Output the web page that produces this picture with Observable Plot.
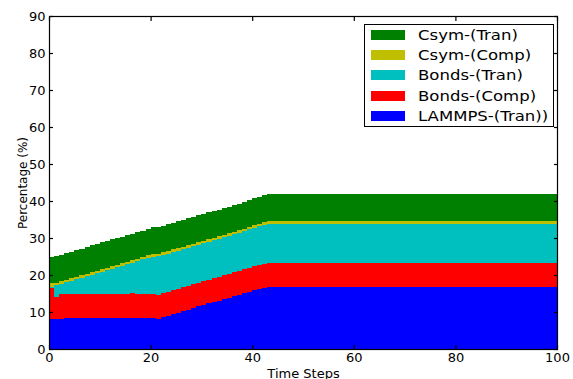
<!DOCTYPE html>
<html><head><meta charset="utf-8">
<script src="https://cdn.jsdelivr.net/npm/d3@7"></script>
<script src="https://cdn.jsdelivr.net/npm/@observablehq/plot@0.6"></script>
<style>
body{margin:0;background:#fff;font-family:"DejaVu Sans",sans-serif;}
#wrap{position:relative;width:573px;height:379px;overflow:hidden;}
#legend{position:absolute;left:364px;top:24px;width:190px;height:103px;border:1px solid #000;background:#fff;box-sizing:border-box;}
.row{position:absolute;left:6px;height:20px;display:flex;align-items:center;font-size:14px;color:#000;white-space:nowrap;}
.sw{width:34px;height:10px;margin-right:13px;flex:none;}
.lt{display:inline-block;transform:scaleX(1.18);transform-origin:left center;}
</style></head><body>
<div id="wrap"><div id="legend"></div></div>
<script>
const seriesNames = ["LAMMPS-(Tran))", "Bonds-(Comp)", "Bonds-(Tran)", "Csym-(Comp)", "Csym-(Tran)"];
const seriesColors = ["#0000ff", "#ff0000", "#00bfbf", "#bfbf00", "#008000"];
const legendOrder = ["Csym-(Tran)", "Csym-(Comp)", "Bonds-(Tran)", "Bonds-(Comp)", "LAMMPS-(Tran))"];
const xTicks = [0, 20, 40, 60, 80, 100];
const yTicks = [0, 10, 20, 30, 40, 50, 60, 70, 80, 90];

const lammpsTran = [
 8.2,8.2,8.2,8.3,8.3,8.3,8.3,8.3,8.3,8.3,
 8.3,8.4,8.4,8.4,8.4,8.4,8.4,8.4,8.4,8.4,
 8.4,8.1,8.6,9.0,9.4,9.8,10.2,10.6,11.0,11.5,
 11.9,12.3,12.7,13.1,13.5,13.9,14.3,14.7,15.1,15.5,
 15.9,16.3,16.6,16.8,16.8,16.8,16.8,16.8,16.8,16.8,
 16.8,16.8,16.8,16.8,16.8,16.8,16.8,16.8,16.8,16.8,
 16.8,16.8,16.8,16.8,16.8,16.8,16.8,16.8,16.8,16.8,
 16.8,16.8,16.8,16.8,16.8,16.8,16.8,16.8,16.8,16.8,
 16.8,16.8,16.8,16.8,16.8,16.8,16.8,16.8,16.8,16.8,
 16.8,16.8,16.8,16.8,16.8,16.8,16.8,16.8,16.8,16.8];
const bondsComp = [
 8.4,5.9,6.7,6.6,6.6,6.5,6.5,6.5,6.6,6.6,
 6.7,6.5,6.5,6.6,6.6,6.6,6.7,6.6,6.6,6.6,
 6.6,6.5,6.5,6.5,6.5,6.5,6.5,6.5,6.5,6.4,
 6.4,6.4,6.4,6.4,6.4,6.4,6.4,6.4,6.4,6.4,
 6.4,6.4,6.4,6.4,6.4,6.5,6.4,6.4,6.5,6.4,
 6.4,6.4,6.4,6.4,6.4,6.4,6.4,6.4,6.4,6.4,
 6.4,6.4,6.4,6.4,6.4,6.4,6.4,6.4,6.5,6.4,
 6.4,6.4,6.4,6.5,6.4,6.4,6.4,6.4,6.5,6.4,
 6.4,6.4,6.4,6.5,6.4,6.4,6.4,6.5,6.4,6.4,
 6.4,6.4,6.4,6.4,6.4,6.4,6.4,6.4,6.4,6.4];
const bondsTran = [
 0.2,3.1,2.7,3.1,3.5,4.0,4.4,4.8,5.2,5.6,
 5.9,6.4,6.8,7.1,7.5,7.9,8.2,8.7,9.2,9.6,
 10.0,10.5,10.3,10.3,10.3,10.3,10.3,10.3,10.3,10.3,
 10.3,10.3,10.3,10.3,10.3,10.3,10.3,10.3,10.3,10.4,
 10.5,10.5,10.6,10.7,10.7,10.6,10.7,10.7,10.6,10.7,
 10.7,10.7,10.7,10.7,10.7,10.7,10.7,10.7,10.7,10.7,
 10.7,10.7,10.7,10.7,10.7,10.7,10.7,10.7,10.6,10.7,
 10.7,10.7,10.7,10.6,10.7,10.7,10.7,10.7,10.6,10.7,
 10.7,10.7,10.7,10.6,10.7,10.7,10.7,10.6,10.7,10.7,
 10.7,10.7,10.7,10.7,10.7,10.7,10.7,10.7,10.7,10.7];
const csymComp = [
 1.1,0.7,0.7,0.7,0.7,0.7,0.7,0.7,0.7,0.7,
 0.7,0.7,0.7,0.7,0.7,0.7,0.7,0.7,0.7,0.7,
 0.8,0.7,0.7,0.7,0.7,0.7,0.7,0.7,0.7,0.7,
 0.7,0.7,0.7,0.7,0.7,0.7,0.7,0.7,0.7,0.7,
 0.7,0.7,0.7,0.7,0.7,0.7,0.7,0.7,0.7,0.7,
 0.7,0.7,0.7,0.7,0.8,0.7,0.7,0.7,0.7,0.8,
 0.7,0.7,0.7,0.7,0.7,0.7,0.8,0.8,0.7,0.7,
 0.8,0.7,0.8,0.8,0.8,0.7,0.8,0.8,0.7,0.8,
 0.7,0.8,0.8,0.7,0.7,0.7,0.7,0.7,0.7,0.7,
 0.7,0.7,0.7,0.7,0.7,0.7,0.7,0.7,0.7,0.7];
const csymTran = [
 6.9,7.2,7.2,7.2,7.2,7.2,7.2,7.3,7.2,7.2,
 7.2,7.2,7.2,7.2,7.2,7.2,7.2,7.2,7.1,7.2,
 7.1,7.2,7.2,7.2,7.2,7.2,7.2,7.2,7.2,7.2,
 7.2,7.2,7.2,7.2,7.2,7.2,7.2,7.2,7.3,7.2,
 7.2,7.3,7.3,7.3,7.3,7.3,7.3,7.3,7.3,7.3,
 7.3,7.3,7.3,7.3,7.3,7.3,7.3,7.3,7.3,7.3,
 7.3,7.3,7.3,7.3,7.3,7.3,7.3,7.3,7.3,7.3,
 7.3,7.3,7.3,7.3,7.3,7.3,7.3,7.3,7.3,7.3,
 7.3,7.3,7.3,7.3,7.3,7.3,7.3,7.3,7.3,7.3,
 7.3,7.3,7.3,7.3,7.3,7.3,7.3,7.3,7.3,7.3];
const seriesValues = [lammpsTran, bondsComp, bondsTran, csymComp, csymTran];
const timeSteps = lammpsTran.map((_, i) => i);

const data = [];
seriesNames.forEach((s, k) => {
  timeSteps.forEach((t, i) => data.push({series: s, t, t2: t + 1, value: seriesValues[k][i]}));
});

const blank = () => "";
const chart = Plot.plot({
  width: 573, height: 379,
  marginLeft: 49, marginRight: 16, marginTop: 16, marginBottom: 30,
  style: {fontFamily: "DejaVu Sans, sans-serif", fontSize: "13px", color: "#000", background: "#fff"},
  x: {domain: [0, 100]},
  y: {domain: [0, 90]},
  color: {domain: seriesNames, range: seriesColors},
  marks: [
    Plot.rectY(data, {x1: "t", x2: "t2", y: "value", fill: "series", inset: 0, shapeRendering: "crispEdges"}),
    Plot.axisX({anchor: "bottom", ticks: xTicks, tickSize: 0, tickPadding: 3, label: "Time Steps", labelAnchor: "center", labelArrow: "none", labelOffset: 28}),
    Plot.axisY({anchor: "left", ticks: yTicks, tickSize: 0, tickPadding: 4, label: null}),
    Plot.axisY({anchor: "left", ticks: [], label: "Percentage (%)", labelAnchor: "center", labelArrow: "none", labelOffset: 31, fontSize: 12}),
    Plot.axisX({anchor: "bottom", ticks: xTicks, tickSize: 4, dy: -4, tickFormat: blank, label: null, stroke: "#000", strokeWidth: 1.2}),
    Plot.axisX({anchor: "top", ticks: xTicks, tickSize: 4, dy: 4, tickFormat: blank, label: null, stroke: "#000", strokeWidth: 1.2}),
    Plot.axisY({anchor: "left", ticks: yTicks, tickSize: 4, dx: 4, tickFormat: blank, label: null, stroke: "#000", strokeWidth: 1.2}),
    Plot.axisY({anchor: "right", ticks: yTicks, tickSize: 4, dx: -4, tickFormat: blank, label: null, stroke: "#000", strokeWidth: 1.2}),
    Plot.frame({stroke: "#000", strokeWidth: 1.2})
  ]
});
document.getElementById("wrap").prepend(chart);

const leg = document.getElementById("legend");
legendOrder.forEach((name, i) => {
  const row = document.createElement("div");
  row.className = "row";
  row.style.top = (i * 20.2) + "px";
  const sw = document.createElement("div");
  sw.className = "sw";
  sw.style.background = seriesColors[seriesNames.indexOf(name)];
  const tx = document.createElement("span");
  tx.className = "lt";
  tx.textContent = name;
  row.append(sw, tx);
  leg.append(row);
});
</script>
</body></html>
